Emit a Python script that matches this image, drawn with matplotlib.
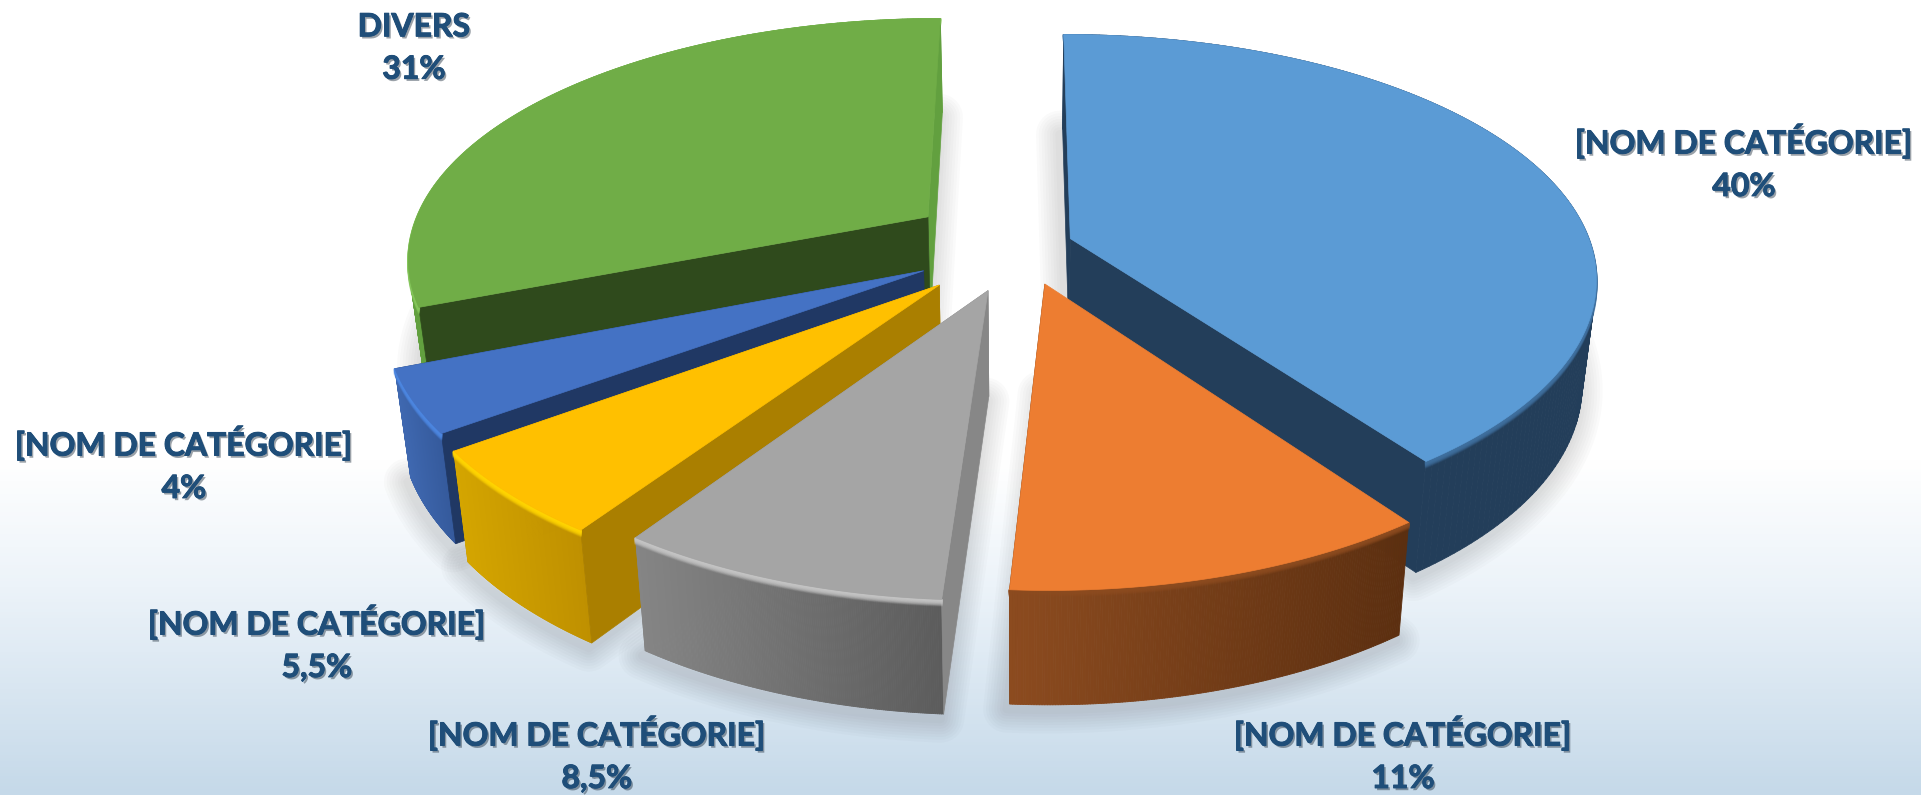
import numpy as np
import matplotlib
matplotlib.use("Agg")
import matplotlib.pyplot as plt
import matplotlib.patheffects as pe
from matplotlib.collections import PolyCollection
from matplotlib.colors import LinearSegmentedColormap, to_rgb

# values, clockwise from 12 o'clock
categories = ["[NOM DE CATÉGORIE]", "[NOM DE CATÉGORIE]", "[NOM DE CATÉGORIE]",
              "[NOM DE CATÉGORIE]", "[NOM DE CATÉGORIE]", "DIVERS"]
values = [40, 11, 8.5, 5.5, 4, 31]
explode = [0.10, 0.16, 0.19, 0.22, 0.21, 0.22]

top_colors = ["#5B9BD5", "#ED7D31", "#A5A5A5", "#FFC000", "#4472C4", "#70AD47"]
face_colors = ["#233E5A", "#5C2F10", "#878787", "#AA7F00", "#203864", "#2F4A1C"]
end_faces = ["#233E5A", "#5C2F10", "#878787", "#AA7F00", "#203864", "#62A03F"]
wall_left = ["#233E5A", "#8C4B1F", "#858585", "#D4A500", "#3F68B0", "#62A03F"]
wall_right = ["#233E5A", "#5C2F10", "#5C5C5C", "#BF9000", "#355A9C", "#62A03F"]
rim_colors = ["#3F6F9E", "#8C4B1F", "#C4C4C4", "#FFD400", "#4C86E0", "#84C65A"]
draw_order = [5, 0, 4, 3, 2, 1]
label_pos = [(1744, 162), (1403, 754), (597, 754), (317, 643), (184, 464), (414, 48)]

W, H = 1921, 795
CX, CY = 1021, 246
R, SQUASH = 521, 0.462
PERSP_X, PERSP_Y = 0.156, 0.168


def project(x, y):
    return (CX + R * x / (1 - PERSP_X * y),
            CY + R * SQUASH * y / (1 - PERSP_Y * y))


def drop(sx, sy, y):
    return CX + (sx - CX) * 0.975, sy + 104 + 9 * y


def mix(a, b, t):
    a, b = np.array(to_rgb(a)), np.array(to_rgb(b))
    return a + (b - a) * t


fig = plt.figure(figsize=(W / 100, H / 100), dpi=100)
ax = fig.add_axes([0, 0, 1, 1])
ax.axis("off")

bg = LinearSegmentedColormap.from_list("bg", [(0, "#FFFFFF"), (0.58, "#FFFFFF"),
                                              (0.74, "#ECF3F9"), (1, "#C5D9E9")])
ax.imshow(np.linspace(0, 1, 256)[:, None], cmap=bg, extent=(0, W, H, 0), aspect="auto", zorder=0)
ax.set_xlim(0, W)
ax.set_ylim(H, 0)

edges = np.cumsum([0] + values) / sum(values) * 2 * np.pi
z = 1
for i in draw_order:
    a0, a1 = edges[i], edges[i + 1]
    mid = (a0 + a1) / 2
    ox, oy = explode[i] * np.sin(mid), -explode[i] * np.cos(mid)
    t = np.linspace(a0, a1, 160)
    wx, wy = ox + np.sin(t), oy - np.cos(t)
    sx, sy = project(wx, wy)
    bx, by = drop(sx, sy, wy)
    ax0, ay0 = project(ox, oy)
    abx, aby = drop(ax0, ay0, oy)

    # soft shadow under the slice
    outline = np.r_[np.c_[bx, by], [[abx, aby]]]
    for lw in range(34, 2, -4):
        ax.fill(outline[:, 0] - 3, outline[:, 1] + 5, facecolor="none", edgecolor="#303030",
                alpha=0.018, lw=lw, joinstyle="round", zorder=z)
    z += 1

    # far radial wall
    ax.fill([ax0, sx[-1], bx[-1], abx], [ay0, sy[-1], by[-1], aby], color=end_faces[i],
            lw=0.5, zorder=z)
    z += 1

    # outer wall, shaded along the rim from screen left to screen right
    quads, cols = [], []
    left, right = sx.min(), sx.max()
    for j in range(len(t) - 1):
        quads.append([(sx[j], sy[j]), (sx[j + 1], sy[j + 1]), (bx[j + 1], by[j + 1]), (bx[j], by[j])])
        cols.append(mix(wall_left[i], wall_right[i], (sx[j] - left) / (right - left)))
    ax.add_collection(PolyCollection(quads, facecolors=cols, edgecolors=cols, linewidths=0.6, zorder=z))
    z += 1

    # orange shows no radial wall, the others show this one over the rim wall
    if i != 1:
        ax.fill([ax0, sx[0], bx[0], abx], [ay0, sy[0], by[0], aby], color=face_colors[i],
                lw=0.5, zorder=z)
        z += 1

    # bevel along the top rim
    for step, alpha in zip(range(9, 0, -1), np.linspace(0.12, 0.9, 9)):
        ax.plot(sx, sy + step * 0.7, color=rim_colors[i], lw=1.5, alpha=alpha, zorder=z)
    z += 1

    # top
    ax.fill(np.r_[ax0, sx], np.r_[ay0, sy], color=top_colors[i], lw=0.5, zorder=z)
    z += 1

for i, (x, y) in enumerate(label_pos):
    pct = str(values[i]).replace(".", ",") + "%"
    ax.text(x, y, categories[i] + "\n" + pct, ha="center", va="center", ma="center",
            family="Lato", weight="bold", fontsize=23, color="#1F4E79", linespacing=1.56,
            zorder=z + 1,
            path_effects=[pe.withSimplePatchShadow(offset=(1.4, -1.6), shadow_rgbFace="#20303F", alpha=0.45),
                          pe.withStroke(linewidth=0.7, foreground="#1F4E79")])

fig.savefig("out.png", dpi=100)
